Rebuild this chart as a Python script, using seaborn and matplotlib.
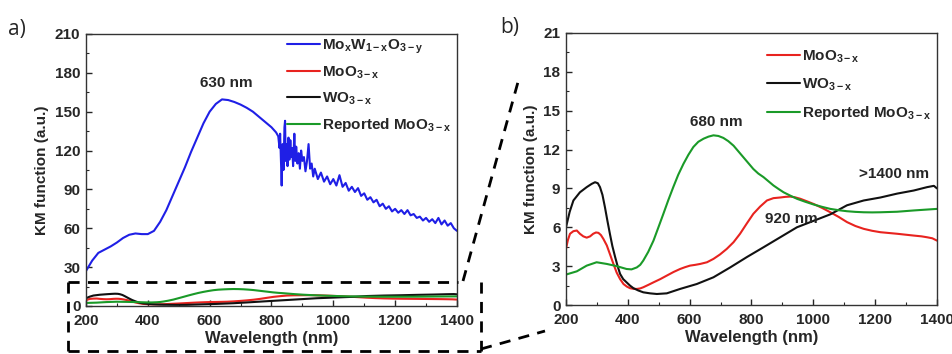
import matplotlib
matplotlib.use("Agg")
import matplotlib.pyplot as plt
import seaborn as sns
import pandas as pd
from matplotlib.lines import Line2D
from matplotlib.ticker import MultipleLocator

# ---------------- data ----------------
blue_x = [200, 220, 240, 260, 280, 300, 320, 340, 360, 380, 400, 420, 440, 460, 480, 500,
          520, 540, 560, 580, 600, 620, 640, 660, 680, 700, 720, 740, 760, 780, 800, 815, 822,
          826, 828, 831, 833, 836, 839, 842, 844, 846, 849, 852, 855, 858, 861, 864, 867, 870,
          874, 877, 880, 884, 888, 892, 896, 900, 905, 910, 915, 920, 925, 930, 935, 940, 950,
          960, 970, 980, 990, 1000, 1010, 1020, 1030, 1040, 1050, 1060, 1070, 1080, 1090, 1100,
          1110, 1120, 1130, 1140, 1150, 1160, 1170, 1180, 1190, 1200, 1210, 1220, 1230, 1240,
          1250, 1260, 1270, 1280, 1290, 1300, 1310, 1320, 1330, 1340, 1350, 1360, 1370, 1380,
          1390, 1400]
blue_y = [27, 35, 41, 43.5, 46, 49, 52.5, 55, 56, 55.5, 55.5, 58, 65, 74, 85, 96,
          107, 119, 130, 141, 150, 156, 159.5, 159, 157.5, 155.5, 153, 150, 146, 142, 138, 134, 131,
          122, 133, 110, 93, 125, 105, 138, 143, 112, 125, 108, 130, 113, 128, 115, 122, 108,
          133, 112, 123, 110, 118, 106, 120, 112, 115, 104, 112, 125, 106, 110, 100, 106, 98,
          103, 96, 100, 94, 98, 93, 101, 92, 95, 89, 92, 88, 91, 85, 87,
          82, 84, 80, 82, 77, 79, 75, 77, 73, 75, 72, 74, 71, 74,
          70, 71, 68, 69, 66, 68, 65, 67, 64, 68, 63, 66, 62, 64,
          60, 58]

wo_x = [200, 212, 224, 245, 267, 283, 294, 303, 310, 318, 326, 334, 342, 350, 359, 367, 375,
        385, 396, 407, 418, 434, 450, 472, 494, 526, 569,
        623, 677, 731, 785, 839, 893, 947, 1001, 1055, 1109, 1163, 1217, 1271, 1325, 1368,
        1390, 1400]
wo_y = [6.0, 7.2, 8.07, 8.7, 9.1, 9.35, 9.48, 9.4, 9.1, 8.5, 7.55, 6.5, 5.5, 4.55, 3.7, 3.0, 2.4,
        2.0, 1.75, 1.5, 1.3, 1.12, 0.98, 0.9, 0.85, 0.9, 1.24,
        1.62, 2.14, 2.9, 3.7, 4.46, 5.23, 6.0, 6.5, 7.0, 7.7, 8.07, 8.3, 8.6, 8.84, 9.1,
        9.2, 9.0]

moo_x = [200, 206, 213, 224, 235, 245, 256, 267, 278, 288, 297, 305, 313, 321, 332, 342, 353,
         364, 375, 386, 397, 407, 418, 429, 440, 450, 466, 483, 505, 526,
         548, 569, 585, 601, 618, 634, 656, 677, 698, 720, 742, 763, 785, 806, 828, 850, 871,
         893, 910, 925, 940, 958, 980, 1001, 1028, 1055, 1082, 1109, 1136, 1163, 1190, 1217,
         1244, 1271, 1298, 1325, 1350, 1368, 1385, 1400]
moo_y = [4.33, 5.0, 5.5, 5.7, 5.75, 5.5, 5.3, 5.2, 5.3, 5.5, 5.6, 5.57, 5.4, 5.1, 4.6, 3.94, 3.2,
         2.5, 2.0, 1.62, 1.42, 1.3, 1.25, 1.24, 1.28, 1.37, 1.55, 1.75, 2.0, 2.27,
         2.55, 2.78, 2.92, 3.04, 3.1, 3.17, 3.3, 3.56, 3.9, 4.33, 4.85, 5.5, 6.3, 7.04, 7.6, 8.07, 8.25,
         8.3, 8.35, 8.37, 8.32, 8.2, 8.0, 7.8, 7.5, 7.16, 6.8, 6.4, 6.1, 5.88, 5.73, 5.62,
         5.56, 5.5, 5.43, 5.36, 5.3, 5.23, 5.15, 4.97]

rep_x = [200, 235, 267, 299, 332, 364, 396, 412, 429, 440, 450, 466, 483, 499, 515, 531, 547,
         563, 580, 596, 612, 628, 645, 661, 677, 693, 709, 725, 742, 758, 774, 790, 806, 822,
         839, 855, 871, 888, 904, 925, 947, 974, 1001, 1028, 1055, 1082, 1109, 1136, 1163, 1190,
         1217, 1244, 1271, 1298, 1325, 1362, 1400]
rep_y = [2.35, 2.6, 3.04, 3.3, 3.17, 3.0, 2.78, 2.75, 2.9, 3.1, 3.43, 4.1, 4.97, 6.0, 7.04, 8.1, 9.1,
         10.05, 10.9, 11.6, 12.2, 12.6, 12.84, 13.0, 13.1, 13.05, 12.9, 12.65, 12.3, 11.85, 11.4, 10.95, 10.5, 10.15,
         9.87, 9.55, 9.23, 8.95, 8.7, 8.45, 8.2, 7.97, 7.76, 7.58, 7.42, 7.32, 7.24, 7.19, 7.16, 7.15,
         7.16, 7.18, 7.2, 7.25, 7.3, 7.36, 7.42]

x_ticks = [200, 400, 600, 800, 1000, 1200, 1400]
ya_ticks = [0, 30, 60, 90, 120, 150, 180, 210]
yb_ticks = [0, 3, 6, 9, 12, 15, 18, 21]

lab_blue = r"Mo$_{x}$W$_{1-x}$O$_{3-y}$"
lab_moo = r"MoO$_{3-x}$"
lab_wo = r"WO$_{3-x}$"
lab_rep = r"Reported MoO$_{3-x}$"

# ---------------- style ----------------
sns.set_style("ticks")
plt.rcParams["font.family"] = ["Liberation Sans", "DejaVu Sans"]
plt.rcParams["font.weight"] = "bold"
plt.rcParams["mathtext.fontset"] = "custom"
plt.rcParams["mathtext.rm"] = "Liberation Sans:bold"
plt.rcParams["mathtext.it"] = "Liberation Sans:bold"
plt.rcParams["mathtext.bf"] = "Liberation Sans:bold"
plt.rcParams["mathtext.default"] = "bf"

C_BLUE = "#1f1fe6"
C_RED = "#e8231f"
C_BLACK = "#111111"
C_GREEN = "#1a9a28"

fig = plt.figure(figsize=(9.53, 3.54), dpi=100)
axa = fig.add_axes([0.0902, 0.1356, 0.3893, 0.7684])
axb = fig.add_axes([0.5939, 0.1384, 0.3893, 0.7684])

df_blue = pd.DataFrame({"x": blue_x, "y": blue_y})
df_moo = pd.DataFrame({"x": moo_x, "y": moo_y})
df_wo = pd.DataFrame({"x": wo_x, "y": wo_y})
df_rep = pd.DataFrame({"x": rep_x, "y": rep_y})

lw = 1.5
sns.lineplot(data=df_blue, x="x", y="y", ax=axa, color=C_BLUE, lw=lw, label=lab_blue)
sns.lineplot(data=df_moo, x="x", y="y", ax=axa, color=C_RED, lw=lw, label=lab_moo)
sns.lineplot(data=df_wo, x="x", y="y", ax=axa, color=C_BLACK, lw=lw, label=lab_wo)
sns.lineplot(data=df_rep, x="x", y="y", ax=axa, color=C_GREEN, lw=lw, label=lab_rep)

sns.lineplot(data=df_moo, x="x", y="y", ax=axb, color=C_RED, lw=lw, label=lab_moo)
sns.lineplot(data=df_wo, x="x", y="y", ax=axb, color=C_BLACK, lw=lw, label=lab_wo)
sns.lineplot(data=df_rep, x="x", y="y", ax=axb, color=C_GREEN, lw=lw, label=lab_rep)

for ax, yt, ymax in [(axa, ya_ticks, 210), (axb, yb_ticks, 21)]:
    ax.set_xlim(200, 1400)
    ax.set_ylim(0, ymax)
    ax.set_xticks(x_ticks)
    ax.set_yticks(yt)
    ax.xaxis.set_minor_locator(MultipleLocator(100))
    ax.yaxis.set_minor_locator(MultipleLocator(yt[1] / 2))
    ax.tick_params(which="both", direction="in", top=False, right=False)
    ax.tick_params(which="major", length=4, width=1, labelsize=11)
    ax.tick_params(axis="x", which="major", pad=6)
    ax.tick_params(axis="y", which="major", pad=4)
    ax.tick_params(which="minor", length=2, width=0.8)
    for lab in ax.get_xticklabels() + ax.get_yticklabels():
        lab.set_fontweight("bold")
    for s in ax.spines.values():
        s.set_linewidth(1.0)
        s.set_color("#333333")
    ax.set_xlabel("Wavelength (nm)", fontsize=12, fontweight="bold", labelpad=2)
    ax.set_ylabel("KM function (a.u.)", fontsize=11, fontweight="bold", labelpad=4)

axa.legend(loc="upper right", frameon=False, fontsize=11, handlelength=2.2,
           handletextpad=0.1, labelspacing=0.6, borderaxespad=0.0, bbox_to_anchor=(1.0, 1.01))
axb.legend(loc="upper right", frameon=False, fontsize=11, handlelength=2.2,
           handletextpad=0.1, labelspacing=0.75, borderaxespad=0.0, bbox_to_anchor=(1.0, 0.965))

axa.text(653, 172, "630 nm", ha="center", va="center", fontsize=11, fontweight="bold")
axb.text(686, 14.1, "680 nm", ha="center", va="center", fontsize=11, fontweight="bold")
axb.text(1260, 10.1, ">1400 nm", ha="center", va="center", fontsize=11, fontweight="bold")
axb.text(930, 6.65, "920 nm", ha="center", va="center", fontsize=11, fontweight="bold")

fig.text(8 / 953, 1 - 30 / 354, "a)", fontsize=15, fontweight="normal",
         family=["Open Sans", "DejaVu Sans"], va="center", ha="left")
fig.text(500 / 953, 1 - 28 / 354, "b)", fontsize=15, fontweight="normal",
         family=["Open Sans", "DejaVu Sans"], va="center", ha="left")

# dashed zoom box and connector lines (figure pixel coordinates)
W, H = 953.0, 354.0
def fl(xs, ys):
    fig.add_artist(Line2D([x / W for x in xs], [1 - y / H for y in ys], transform=fig.transFigure,
                          color="black", lw=2, ls=(0, (4, 3)), clip_on=False))
fl([68, 458], [282, 282])
fl([68, 68], [282, 351])
fl([68, 481], [351, 351])
fl([481, 481], [282, 351])
fl([463, 518], [281, 82])
fl([481, 545], [349, 331])

fig.savefig("out.png", dpi=100)
